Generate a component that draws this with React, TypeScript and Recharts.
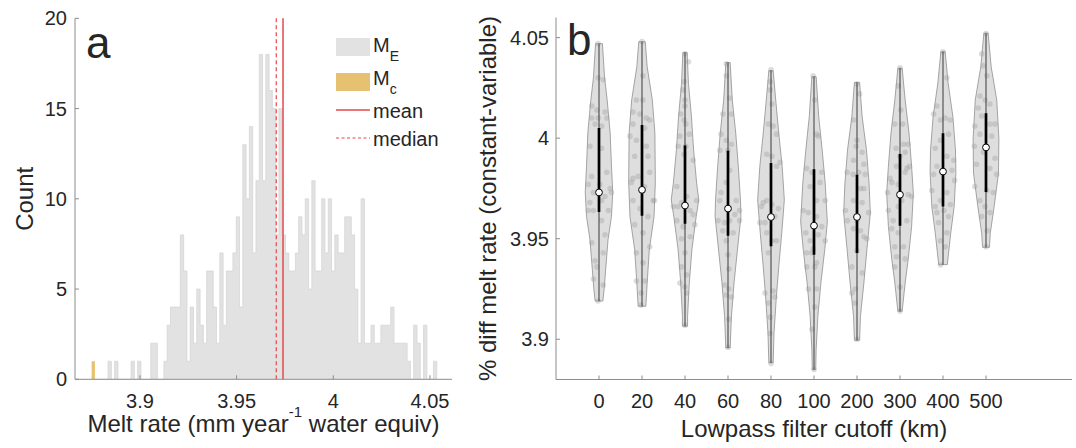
import React from 'react';
import { ComposedChart, Area, XAxis, YAxis, ReferenceLine, Legend, Scatter } from 'recharts';

const FONT = '"Liberation Sans", Arial, Helvetica, sans-serif';
const TEXT = '#262626';
const AXIS = '#8c8c8c';
const GREY = '#e2e2e2';
const ORANGE = '#e6c171';
const RED = '#e5484d';

// ---------- panel a: histogram ----------
const binStart = 3.875;
const binWidth = 0.0017;
const countsE = [
  0, 0, 0, 0, 0, 1, 0, 1, 0, 0, 0, 0, 1, 0, 1, 0, 0, 0, 2, 2, 0, 0,
  1, 3, 4, 4, 4, 8, 6, 1, 4, 2, 5, 3, 2, 6, 6, 4, 2, 7, 3, 6, 6, 7, 9,
  4, 13, 10, 14, 7, 11, 18, 11, 18, 16, 15, 8, 15, 8,
  7, 6, 6, 7, 9, 8, 10, 5, 11, 6, 6, 10, 7, 10, 6, 8, 7, 7, 9, 9, 8,
  5, 2, 10, 2, 2, 3, 2, 2, 3, 3, 3, 4, 2, 2, 2, 2, 1, 0, 3, 2, 0, 3, 0, 0, 1,
];
const countsC = [1];
const meanE = 3.974;
const medianE = 3.9705;
const histTicksX = [3.9, 3.95, 4, 4.05];
const histTicksY = [0, 5, 10, 15, 20];
const legendLabels = ['M', 'E', 'M', 'c', 'mean', 'median'];

// ---------- panel b: violins ----------
const cutoffs = ['0', '20', '40', '60', '80', '100', '200', '300', '400', '500'];
const violinMin = [3.919, 3.9164, 3.9065, 3.8957, 3.8883, 3.8849, 3.8995, 3.9139, 3.9371, 3.9457];
const violinMax = [4.047, 4.048, 4.0426, 4.0376, 4.0336, 4.0306, 4.0277, 4.0348, 4.043, 4.0522];
const violinQ1 = [3.9633, 3.9614, 3.9575, 3.9515, 3.9462, 3.942, 3.9429, 3.9565, 3.966, 3.9732];
const violinMedian = [3.973, 3.9743, 3.9665, 3.965, 3.9608, 3.9565, 3.9608, 3.9719, 3.9834, 3.9954];
const violinQ3 = [4.005, 4.0066, 3.9963, 3.9937, 3.9876, 3.9846, 3.9818, 3.9921, 4.0025, 4.0124];
const violinTicksY = [3.9, 3.95, 4, 4.05];

// [value, half width] from bottom to top
const violinProfiles: number[][][] = [
  [[3.919, 0.09], [3.925, 0.12], [3.936, 0.16], [3.9495, 0.21], [3.961, 0.29], [3.973, 0.32], [3.986, 0.29], [4.0025, 0.26], [4.019, 0.19], [4.03, 0.13], [4.047, 0.08]],
  [[3.9164, 0.09], [3.928, 0.12], [3.9445, 0.17], [3.961, 0.28], [3.978, 0.31], [4.0025, 0.3], [4.019, 0.24], [4.0356, 0.12], [4.048, 0.075]],
  [[3.9065, 0.06], [3.9114, 0.06], [3.928, 0.1], [3.9445, 0.16], [3.961, 0.26], [3.9693, 0.32], [3.9777, 0.27], [3.9942, 0.2], [4.0107, 0.15], [4.0273, 0.08], [4.0426, 0.05]],
  [[3.8957, 0.05], [3.9114, 0.08], [3.928, 0.14], [3.9445, 0.22], [3.961, 0.3], [3.9693, 0.29], [3.986, 0.24], [4.0025, 0.18], [4.019, 0.1], [4.0376, 0.05]],
  [[3.8883, 0.05], [3.903, 0.07], [3.9197, 0.12], [3.936, 0.18], [3.9528, 0.25], [3.9693, 0.31], [3.986, 0.26], [4.0025, 0.18], [4.019, 0.11], [4.0336, 0.05]],
  [[3.8849, 0.04], [3.8949, 0.05], [3.9114, 0.09], [3.928, 0.16], [3.9445, 0.25], [3.9584, 0.31], [3.9777, 0.26], [3.9942, 0.19], [4.0107, 0.11], [4.0306, 0.05]],
  [[3.8995, 0.06], [3.9114, 0.08], [3.928, 0.16], [3.9445, 0.23], [3.9628, 0.31], [3.9777, 0.28], [3.9942, 0.22], [4.0107, 0.12], [4.0277, 0.06]],
  [[3.9139, 0.05], [3.928, 0.12], [3.9396, 0.19], [3.9561, 0.27], [3.9727, 0.31], [3.986, 0.27], [4.0025, 0.21], [4.019, 0.12], [4.0348, 0.05]],
  [[3.9371, 0.1], [3.9528, 0.18], [3.966, 0.26], [3.983, 0.3], [3.9942, 0.29], [4.0107, 0.23], [4.0273, 0.12], [4.043, 0.05]],
  [[3.9457, 0.08], [3.9528, 0.1], [3.966, 0.19], [3.9826, 0.29], [3.9996, 0.3], [4.019, 0.25], [4.0356, 0.12], [4.0522, 0.05]],
];

// [x offset from category, value]
const violinPoints: number[][][] = [
  [[-0.02, 4.047], [-0.02, 4.03], [0.1, 4.029], [-0.17, 4.016], [-0.05, 4.014], [0.14, 4.013], [-0.17, 4.01], [-0.02, 4.01], [0.18, 4.01], [-0.09, 4.007], [0.06, 4.006], [-0.21, 3.996], [0.06, 3.995], [0.18, 3.983], [-0.17, 3.981], [-0.25, 3.977], [0.02, 3.977], [0.26, 3.975], [-0.13, 3.973], [0.14, 3.971], [0.29, 3.973], [-0.21, 3.968], [0.06, 3.969], [-0.13, 3.964], [-0.25, 3.964], [0.22, 3.964], [0.06, 3.959], [0.14, 3.952], [-0.17, 3.948], [0.1, 3.943], [-0.09, 3.939], [-0.05, 3.936], [-0.13, 3.93], [0.1, 3.927], [-0.02, 3.919]],
  [[0, 4.048], [0.02, 4.031], [-0.13, 4.019], [0.02, 4.019], [-0.21, 4.013], [-0.05, 4.012], [0.1, 4.01], [0.18, 4.009], [-0.21, 4.007], [0.06, 4.005], [-0.28, 4.001], [-0.13, 3.999], [0.1, 3.996], [-0.17, 3.991], [0.14, 3.991], [-0.21, 3.98], [-0.09, 3.981], [-0.25, 3.978], [0.18, 3.983], [0.06, 3.976], [0.26, 3.969], [0.29, 3.969], [-0.21, 3.969], [-0.05, 3.965], [0.14, 3.961], [-0.17, 3.957], [0.02, 3.953], [0.18, 3.946], [-0.13, 3.943], [0.02, 3.938], [0.06, 3.929], [-0.13, 3.929], [-0.02, 3.923], [-0.02, 3.917]],
  [[0, 4.042], [0.08, 4.038], [-0.02, 4.028], [-0.05, 4.024], [0, 4.019], [0, 4.016], [-0.1, 4.012], [-0.02, 4.009], [0.02, 4.007], [-0.12, 4.001], [0.1, 4.002], [-0.16, 3.996], [0.02, 3.996], [-0.02, 3.992], [0.19, 3.989], [-0.19, 3.976], [0.04, 3.971], [0.27, 3.969], [-0.27, 3.966], [-0.16, 3.966], [-0.08, 3.968], [0.12, 3.964], [0.19, 3.962], [-0.19, 3.959], [-0.04, 3.956], [0.23, 3.957], [0.12, 3.951], [-0.08, 3.95], [0, 3.943], [-0.08, 3.936], [0.04, 3.932], [-0.12, 3.928], [0, 3.926], [0.04, 3.923], [0, 3.907]],
  [[-0.04, 4.037], [-0.04, 4.031], [0.04, 4.02], [-0.12, 4.012], [0.08, 4.012], [-0.16, 4.002], [-0.04, 3.999], [0.08, 3.997], [-0.19, 3.994], [0, 3.994], [0.04, 3.984], [-0.04, 3.978], [-0.16, 3.973], [-0.19, 3.969], [0.19, 3.969], [0.27, 3.964], [0.16, 3.962], [0.27, 3.959], [0.04, 3.959], [-0.08, 3.958], [-0.12, 3.954], [-0.23, 3.959], [0.12, 3.953], [-0.04, 3.949], [0, 3.942], [0.02, 3.935], [-0.08, 3.927], [0.02, 3.925], [-0.04, 3.922], [0.08, 3.921], [0.02, 3.91], [0, 3.896]],
  [[0, 4.034], [-0.02, 4.028], [-0.02, 4.024], [0.02, 4.017], [-0.06, 4.007], [0.05, 4.006], [0.13, 4.002], [-0.1, 3.992], [0.02, 3.991], [0.21, 3.988], [0.13, 3.986], [-0.18, 3.968], [-0.22, 3.966], [-0.1, 3.969], [0.02, 3.967], [0.17, 3.965], [-0.26, 3.958], [-0.14, 3.958], [0.09, 3.961], [-0.1, 3.953], [0.02, 3.949], [0.13, 3.949], [-0.06, 3.943], [-0.14, 3.923], [0.05, 3.924], [-0.06, 3.918], [0.09, 3.921], [-0.02, 3.911], [-0.02, 3.903], [0, 3.888]],
  [[-0.02, 4.031], [0.02, 4.019], [0.06, 4.002], [0.1, 4.001], [-0.17, 3.985], [-0.05, 3.983], [0.18, 3.983], [0.14, 3.978], [-0.09, 3.976], [-0.25, 3.964], [0.06, 3.969], [0.26, 3.969], [-0.13, 3.963], [0.06, 3.961], [0.18, 3.956], [-0.19, 3.953], [-0.09, 3.949], [0.1, 3.952], [0.26, 3.949], [-0.02, 3.945], [-0.17, 3.943], [-0.05, 3.943], [0.06, 3.938], [-0.17, 3.936], [0.02, 3.936], [-0.13, 3.925], [0.06, 3.925], [0.02, 3.916], [-0.05, 3.905], [0, 3.885]],
  [[0, 4.027], [0.06, 4.022], [-0.08, 4.009], [0, 3.999], [-0.02, 3.996], [0.12, 3.993], [-0.08, 3.989], [0.16, 3.987], [-0.23, 3.983], [0.04, 3.983], [-0.09, 3.982], [0.19, 3.982], [0.08, 3.975], [0.16, 3.975], [-0.27, 3.964], [-0.08, 3.969], [0.12, 3.968], [0.27, 3.963], [0, 3.959], [-0.22, 3.959], [-0.08, 3.955], [0.08, 3.954], [0.23, 3.95], [0.16, 3.951], [0, 3.944], [0.12, 3.933], [-0.12, 3.936], [-0.04, 3.925], [-0.12, 3.923], [-0.04, 3.918], [0, 3.9]],
  [[0, 4.035], [-0.04, 4.026], [0.02, 4.014], [-0.12, 4.007], [0.06, 4.007], [0.08, 3.997], [-0.09, 3.995], [0.19, 3.997], [0, 3.991], [0.12, 3.993], [-0.08, 3.986], [0.22, 3.986], [0.16, 3.985], [-0.23, 3.98], [0.12, 3.983], [-0.19, 3.978], [-0.04, 3.977], [-0.29, 3.973], [0.19, 3.972], [0.27, 3.971], [0.04, 3.969], [-0.27, 3.964], [-0.04, 3.966], [-0.16, 3.959], [0.16, 3.959], [-0.04, 3.953], [-0.19, 3.955], [0.08, 3.946], [-0.12, 3.946], [-0.08, 3.941], [0.12, 3.94], [-0.12, 3.936], [0, 3.926], [0, 3.914]],
  [[0, 4.043], [0.09, 4.03], [-0.14, 4.016], [-0.22, 4.012], [-0.06, 4.009], [0.05, 4.01], [0.17, 4.009], [0.13, 4.002], [-0.06, 3.999], [-0.18, 3.995], [0.09, 3.991], [0.25, 3.989], [-0.14, 3.986], [0.21, 3.984], [-0.22, 3.982], [0.27, 3.979], [-0.26, 3.974], [0.09, 3.973], [-0.06, 3.969], [0.17, 3.967], [-0.18, 3.966], [0.02, 3.964], [-0.14, 3.963], [0.13, 3.961], [-0.1, 3.958], [0.09, 3.953], [-0.06, 3.949], [0.05, 3.946], [-0.06, 3.937]],
  [[0, 4.052], [-0.1, 4.042], [-0.06, 4.036], [0.02, 4.031], [-0.14, 4.021], [-0.02, 4.019], [0.09, 4.017], [-0.18, 4.015], [-0.1, 4.011], [0.09, 4.007], [0.21, 4.007], [-0.26, 4.006], [-0.14, 4.002], [0.13, 4.001], [-0.27, 3.996], [-0.06, 3.993], [0.21, 3.99], [-0.22, 3.987], [0.09, 3.985], [0.25, 3.982], [-0.26, 3.976], [0.02, 3.974], [0.17, 3.973], [-0.14, 3.969], [-0.02, 3.966], [0.09, 3.963], [-0.1, 3.961], [0.03, 3.954], [0, 3.946]],
];

// ---------- derived tables ----------
// one row per bin edge; the last edge closes the final bin
const histRows = [...countsE, 0].map((e, k) => ({
  x: binStart + binWidth * k,
  e,
  c: countsC[k] ?? 0,
}));

const outlineRows = violinProfiles.map((prof, i) => {
  const right = prof.map(([v, hw]) => ({ x: i + 1 + hw, y: v }));
  const left = [...prof].reverse().map(([v, hw]) => ({ x: i + 1 - hw, y: v }));
  return [...right, ...left];
});

const pointRows = violinPoints.flatMap((pts, i) => pts.map(([dx, v]) => ({ x: i + 1 + dx, y: v })));

const whiskerRows = cutoffs.map((_, i) => [
  { x: i + 1, y: violinMin[i] },
  { x: i + 1, y: violinMax[i] },
]);
const iqrRows = cutoffs.map((_, i) => [
  { x: i + 1, y: violinQ1[i] },
  { x: i + 1, y: violinQ3[i] },
]);
const medianRows = cutoffs.map((_, i) => ({ x: i + 1, y: violinMedian[i] }));

const catTicks = cutoffs.map((_, i) => i + 1);

// ---------- renderers ----------
const tickStyle = { fontSize: 20, fill: TEXT, fontFamily: FONT };

const NoShape = () => <g />;
const Dot = (p: any) => <circle cx={p.cx} cy={p.cy} r={2.8} fill="#9a9a9a" fillOpacity={0.35} />;
const MedianDot = (p: any) => <circle cx={p.cx} cy={p.cy} r={3.4} fill="#ffffff" stroke="#000" strokeWidth={1} />;

const meltLabel = (props: any) => {
  const vb = props.viewBox || { x: 75, y: 380, width: 377 };
  return (
    <text x={vb.x + vb.width / 2} y={vb.y + 53} textAnchor="middle" fontSize={24} fill={TEXT} fontFamily={FONT}>
      Melt rate (mm year<tspan dy={-15} fontSize={15}>-1</tspan>
      <tspan dy={15}> water equiv)</tspan>
    </text>
  );
};

const countLabel = (props: any) => {
  const vb = props.viewBox || { y: 18, height: 362 };
  const cy = vb.y + vb.height / 2;
  return (
    <g fontFamily={FONT} fill={TEXT}>
      <text x={33} y={cy} transform={`rotate(-90, 33, ${cy})`} textAnchor="middle" fontSize={24}>Count</text>
      <text x={86} y={58} fontSize={44}>a</text>
    </g>
  );
};

const cutoffLabel = (props: any) => {
  const vb = props.viewBox || { x: 86, y: 379, width: 516 };
  return (
    <text x={vb.x + vb.width / 2} y={vb.y + 57} textAnchor="middle" fontSize={24} fill={TEXT} fontFamily={FONT}>
      Lowpass filter cutoff (km)
    </text>
  );
};

const diffLabel = (props: any) => {
  const vb = props.viewBox || { y: 17.5, height: 362 };
  const cy = vb.y + vb.height / 2;
  return (
    <g fontFamily={FONT} fill={TEXT}>
      <text x={26} y={cy} transform={`rotate(-90, 26, ${cy})`} textAnchor="middle" fontSize={24}>
        % diff melt rate (constant-variable)
      </text>
      <text x={97} y={55} fontSize={44}>b</text>
    </g>
  );
};

const legendContent = () => (
  <svg width={130} height={125} style={{ fontFamily: FONT, overflow: 'visible', display: 'block' }}>
    <rect x={6} y={8} width={34} height={18} fill={GREY} />
    <text x={43} y={22} fontSize={20} fill={TEXT}>
      {legendLabels[0]}
      <tspan dy={9} fontSize={14}>{legendLabels[1]}</tspan>
    </text>
    <rect x={6} y={43} width={34} height={18} fill={ORANGE} />
    <text x={43} y={55} fontSize={20} fill={TEXT}>
      {legendLabels[2]}
      <tspan dy={9} fontSize={14}>{legendLabels[3]}</tspan>
    </text>
    <line x1={6} x2={40} y1={80} y2={80} stroke={RED} strokeWidth={1.3} />
    <text x={43} y={88} fontSize={20} fill={TEXT}>{legendLabels[4]}</text>
    <line x1={6} x2={40} y1={108} y2={108} stroke={RED} strokeWidth={1.1} strokeDasharray="3 2.5" />
    <text x={43} y={116} fontSize={20} fill={TEXT}>{legendLabels[5]}</text>
  </svg>
);

export default function App() {
  return (
    <div style={{ position: 'absolute', left: 0, top: 0, width: 1076, height: 448, background: '#fff', fontFamily: FONT }}>
      <div style={{ position: 'absolute', left: 0, top: 0 }}>
        <ComposedChart
          width={470}
          height={448}
          data={histRows}
          margin={{ top: 18.3, right: 18, bottom: 0, left: 0 }}
        >
          <XAxis
            type="number"
            dataKey="x"
            domain={[3.8664, 4.0614]}
            allowDataOverflow
            ticks={histTicksX}
            interval={0}
            height={68.7}
            tick={tickStyle}
            tickSize={-4}
            tickMargin={18}
            stroke={AXIS}
            label={meltLabel}
          />
          <YAxis
            type="number"
            domain={[0, 20]}
            allowDataOverflow
            ticks={histTicksY}
            interval={0}
            width={75}
            tick={tickStyle}
            tickSize={-4}
            tickMargin={12}
            stroke={AXIS}
            label={countLabel}
          />
          <Area
            type="stepAfter"
            dataKey="e"
            fill={GREY}
            fillOpacity={1}
            stroke="#d6d6d6"
            strokeWidth={0.8}
            isAnimationActive={false}
            dot={false}
            activeDot={false}
          />
          <Area
            type="stepAfter"
            dataKey="c"
            fill={ORANGE}
            fillOpacity={1}
            stroke="none"
            isAnimationActive={false}
            dot={false}
            activeDot={false}
          />
          <ReferenceLine x={medianE} stroke={RED} strokeWidth={1.2} strokeDasharray="4 3" />
          <ReferenceLine x={meanE} stroke={RED} strokeWidth={1.5} />
          <Legend
            layout="vertical"
            align="center"
            verticalAlign="middle"
            content={legendContent}
            wrapperStyle={{ left: 330, top: 30, width: 130, height: 125 }}
          />
        </ComposedChart>
      </div>
      <div style={{ position: 'absolute', left: 470, top: 0 }}>
        <ComposedChart width={606} height={448} margin={{ top: 17.5, right: 4, bottom: 0, left: 0 }}>
          <XAxis
            type="number"
            dataKey="x"
            domain={[0, 12]}
            allowDataOverflow
            ticks={catTicks}
            interval={0}
            tickFormatter={(v: number) => cutoffs[v - 1]}
            height={68.5}
            tick={tickStyle}
            tickSize={-4}
            tickMargin={18}
            stroke={AXIS}
            label={cutoffLabel}
          />
          <YAxis
            type="number"
            dataKey="y"
            domain={[3.88, 4.06]}
            allowDataOverflow
            ticks={violinTicksY}
            interval={0}
            width={86}
            tick={tickStyle}
            tickSize={-4}
            tickMargin={11}
            stroke={AXIS}
            label={diffLabel}
          />
          {outlineRows.map((rows, i) => (
            <Scatter
              key={`v${i}`}
              data={rows}
              fill="#dedede"
              line={{ fill: '#dedede', stroke: '#8f8f8f', strokeWidth: 0.8 }}
              lineJointType="linearClosed"
              shape={NoShape}
              isAnimationActive={false}
            />
          ))}
          <Scatter data={pointRows} fill="#9a9a9a" shape={Dot} isAnimationActive={false} />
          {whiskerRows.map((rows, i) => (
            <Scatter
              key={`w${i}`}
              data={rows}
              fill="#3a3a3a"
              line={{ stroke: '#3a3a3a', strokeWidth: 1 }}
              shape={NoShape}
              isAnimationActive={false}
            />
          ))}
          {iqrRows.map((rows, i) => (
            <Scatter
              key={`q${i}`}
              data={rows}
              fill="#000"
              line={{ stroke: '#000', strokeWidth: 2.7 }}
              shape={NoShape}
              isAnimationActive={false}
            />
          ))}
          <Scatter data={medianRows} fill="#fff" shape={MedianDot} isAnimationActive={false} />
        </ComposedChart>
      </div>
    </div>
  );
}
